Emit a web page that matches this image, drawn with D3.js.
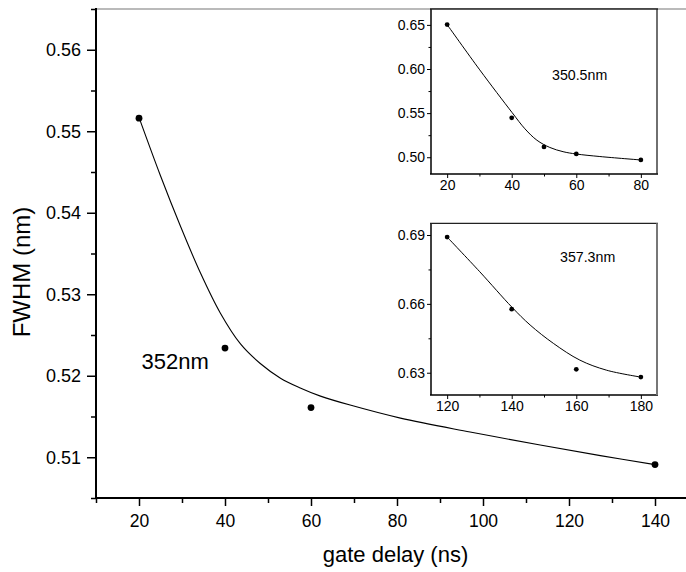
<!DOCTYPE html>
<html>
<head>
<meta charset="utf-8">
<script src="https://cdn.jsdelivr.net/npm/d3@7/dist/d3.min.js"></script>
<style>
  html, body { margin: 0; padding: 0; background: #fff; }
  svg { display: block; font-family: "Liberation Sans", Arial, Helvetica, sans-serif; }
</style>
</head>
<body>
<svg id="chart" width="686" height="572"></svg>
<script>
// ---------- data ----------
// main panel (352nm)
const mainX = [20, 40, 60, 140];
const mainY = [0.5516, 0.5234, 0.5161, 0.5091];
const mainFitX = [20, 24.95, 29.6, 34.3, 38.9, 43.6, 48.2, 52.9, 57.5, 62.2, 69.1, 80.8, 97.0, 113.3, 127.3, 140];
const mainFitY = [0.5517, 0.5446, 0.5384, 0.5326, 0.5277, 0.5239, 0.5215, 0.5197, 0.5185, 0.5175, 0.5164, 0.5148, 0.5131, 0.5115, 0.5102, 0.5091];
const mainXTicks = [20, 40, 60, 80, 100, 120, 140];
const mainXMinor = [10, 30, 50, 70, 90, 110, 130];
const mainYTicks = [0.51, 0.52, 0.53, 0.54, 0.55, 0.56];
const mainYMinor = [0.505, 0.515, 0.525, 0.535, 0.545, 0.555, 0.565];
const mainLabel = "352nm";
const xTitle = "gate delay (ns)";
const yTitle = "FWHM (nm)";

// inset 1 (350.5nm)
const in1X = [20, 40, 50, 60, 80];
const in1Y = [0.6504, 0.5447, 0.5117, 0.5038, 0.4970];
const in1FitX = [20, 30.1, 40.1, 44.1, 47.8, 51.8, 55.9, 59.9, 67.3, 80];
const in1FitY = [0.6503, 0.599, 0.5507, 0.5322, 0.5193, 0.5111, 0.5063, 0.5037, 0.5008, 0.4969];
const in1XTicks = [20, 40, 60, 80];
const in1XMinor = [30, 50, 70];
const in1YTicks = [0.50, 0.55, 0.60, 0.65];
const in1YMinor = [0.525, 0.575, 0.625];
const in1Label = "350.5nm";

// inset 2 (357.3nm)
const in2X = [120, 140, 160, 180];
const in2Y = [0.6891, 0.6577, 0.6315, 0.6281];
const in2FitX = [120, 130.1, 140.1, 145.7, 152.9, 161.1, 169.4, 180];
const in2FitY = [0.6891, 0.674, 0.6585, 0.6508, 0.6428, 0.6355, 0.6311, 0.6281];
const in2XTicks = [120, 140, 160, 180];
const in2XMinor = [130, 150, 170];
const in2YTicks = [0.63, 0.66, 0.69];
const in2YMinor = [0.645, 0.675];
const in2Label = "357.3nm";

// ---------- drawing ----------
const svg = d3.select("#chart");
const FONT = "Liberation Sans, Arial, sans-serif";

function zip(a, b) { return a.map((v, i) => [v, b[i]]); }

// ---- main panel ----
const x = d3.scaleLinear().domain([10, 150]).range([96, 698]);
const y = d3.scaleLinear().domain([0.505, 0.565]).range([498, 9]);

// top frame line (gray)
svg.append("line").attr("x1", 96).attr("x2", 686).attr("y1", 9).attr("y2", 9)
  .attr("stroke", "#777").attr("stroke-width", 1.2);

// x axis
const gx = svg.append("g").attr("transform", "translate(0,498)");
gx.call(d3.axisBottom(x).tickValues(mainXTicks).tickSize(8).tickPadding(9).tickFormat(d3.format("d")))
  .call(g => g.select(".domain").remove());
gx.selectAll(".tick line").attr("stroke", "#000").attr("stroke-width", 1.5);
gx.selectAll(".tick text").attr("font-size", 17.5).attr("fill", "#000").attr("font-family", FONT);
const gxm = svg.append("g").attr("transform", "translate(0,498)");
gxm.call(d3.axisBottom(x).tickValues(mainXMinor).tickSize(5).tickFormat(""))
  .call(g => g.select(".domain").remove());
gxm.selectAll(".tick line").attr("stroke", "#000").attr("stroke-width", 1.5);
svg.append("line").attr("x1", 95).attr("x2", 686).attr("y1", 498).attr("y2", 498)
  .attr("stroke", "#000").attr("stroke-width", 2);

// y axis
const gy = svg.append("g").attr("transform", "translate(96,0)");
gy.call(d3.axisLeft(y).tickValues(mainYTicks).tickSize(9).tickPadding(6).tickFormat(d3.format(".2f")))
  .call(g => g.select(".domain").remove());
gy.selectAll(".tick line").attr("stroke", "#000").attr("stroke-width", 1.5);
gy.selectAll(".tick text").attr("font-size", 18).attr("fill", "#000").attr("font-family", FONT);
const gym = svg.append("g").attr("transform", "translate(96,0)");
gym.call(d3.axisLeft(y).tickValues(mainYMinor).tickSize(5).tickFormat(""))
  .call(g => g.select(".domain").remove());
gym.selectAll(".tick line").attr("stroke", "#000").attr("stroke-width", 1.5);
svg.append("line").attr("x1", 96).attr("x2", 96).attr("y1", 8).attr("y2", 499)
  .attr("stroke", "#000").attr("stroke-width", 2);

// titles
svg.append("text").attr("x", 395.5).attr("y", 562).attr("text-anchor", "middle")
  .attr("font-size", 22).attr("fill", "#000").text(xTitle);
svg.append("text").attr("transform", "translate(30,272) rotate(-90)").attr("text-anchor", "middle")
  .attr("font-size", 24).attr("fill", "#000").text(yTitle);

// fit curve + points
svg.append("path").datum(zip(mainFitX, mainFitY))
  .attr("d", d3.line().x(d => x(d[0])).y(d => y(d[1])).curve(d3.curveCatmullRom.alpha(0.5)))
  .attr("fill", "none").attr("stroke", "#000").attr("stroke-width", 1.1);
svg.append("g").selectAll("circle").data(zip(mainX, mainY)).join("circle")
  .attr("cx", d => x(d[0])).attr("cy", d => y(d[1])).attr("r", 3.4).attr("fill", "#000");
svg.append("text").attr("x", 141.5).attr("y", 369).attr("font-size", 22).attr("fill", "#000").text(mainLabel);

// ---- insets ----
function inset(cfg) {
  const ix = d3.scaleLinear().domain(cfg.xd).range([431, 657]);
  const iy = d3.scaleLinear().domain(cfg.yd).range([cfg.bottom, cfg.top]);
  const g = svg.append("g");
  g.append("rect").attr("x", 431).attr("y", cfg.top).attr("width", 226).attr("height", cfg.bottom - cfg.top)
    .attr("fill", "#fff").attr("stroke", "none");
  const ax = g.append("g").attr("transform", `translate(0,${cfg.bottom})`);
  ax.call(d3.axisBottom(ix).tickValues(cfg.xt).tickSize(4).tickPadding(2).tickFormat(d3.format("d")))
    .call(s => s.select(".domain").remove());
  ax.selectAll(".tick text").attr("font-size", 14).attr("fill", "#000").attr("font-family", FONT);
  ax.selectAll(".tick line").attr("stroke", "#000");
  const axm = g.append("g").attr("transform", `translate(0,${cfg.bottom})`);
  axm.call(d3.axisBottom(ix).tickValues(cfg.xm).tickSize(2.5).tickFormat(""))
    .call(s => s.select(".domain").remove());
  axm.selectAll(".tick line").attr("stroke", "#000");
  const ay = g.append("g").attr("transform", "translate(431,0)");
  ay.call(d3.axisLeft(iy).tickValues(cfg.yt).tickSize(4).tickPadding(2).tickFormat(d3.format(".2f")))
    .call(s => s.select(".domain").remove());
  ay.selectAll(".tick text").attr("font-size", 14).attr("fill", "#000").attr("font-family", FONT);
  ay.selectAll(".tick line").attr("stroke", "#000");
  const aym = g.append("g").attr("transform", "translate(431,0)");
  aym.call(d3.axisLeft(iy).tickValues(cfg.ym).tickSize(2.5).tickFormat(""))
    .call(s => s.select(".domain").remove());
  aym.selectAll(".tick line").attr("stroke", "#000");
  g.append("line").attr("x1", 431).attr("x2", 431).attr("y1", cfg.top).attr("y2", cfg.bottom).attr("stroke", "#000").attr("stroke-width", 1.5);
  g.append("line").attr("x1", 430).attr("x2", 658).attr("y1", cfg.bottom).attr("y2", cfg.bottom).attr("stroke", "#000").attr("stroke-width", 1.5);
  g.append("line").attr("x1", 430).attr("x2", 658).attr("y1", cfg.top).attr("y2", cfg.top).attr("stroke", "#222").attr("stroke-width", 1.3);
  g.append("line").attr("x1", 657).attr("x2", 657).attr("y1", cfg.top).attr("y2", cfg.bottom).attr("stroke", cfg.rightColor).attr("stroke-width", cfg.rightWidth);
  g.append("path").datum(zip(cfg.fx, cfg.fy))
    .attr("d", d3.line().x(d => ix(d[0])).y(d => iy(d[1])).curve(d3.curveCatmullRom.alpha(0.5)))
    .attr("fill", "none").attr("stroke", "#000").attr("stroke-width", 1);
  g.append("g").selectAll("circle").data(zip(cfg.px, cfg.py)).join("circle")
    .attr("cx", d => ix(d[0])).attr("cy", d => iy(d[1])).attr("r", 2.4).attr("fill", "#000");
  g.append("text").attr("x", cfg.lx).attr("y", cfg.ly).attr("font-size", 14.2).attr("fill", "#000").text(cfg.label);
}

inset({ xd: [15, 85], yd: [0.481, 0.668], top: 9, bottom: 174,
  xt: in1XTicks, xm: in1XMinor, yt: in1YTicks, ym: in1YMinor,
  fx: in1FitX, fy: in1FitY, px: in1X, py: in1Y, label: in1Label, lx: 552, ly: 80,
  rightColor: "#222", rightWidth: 1.3 });
inset({ xd: [115, 185], yd: [0.6203, 0.6951], top: 223.3, bottom: 395,
  xt: in2XTicks, xm: in2XMinor, yt: in2YTicks, ym: in2YMinor,
  fx: in2FitX, fy: in2FitY, px: in2X, py: in2Y, label: in2Label, lx: 560, ly: 262,
  rightColor: "#777", rightWidth: 2 });
</script>
</body>
</html>
